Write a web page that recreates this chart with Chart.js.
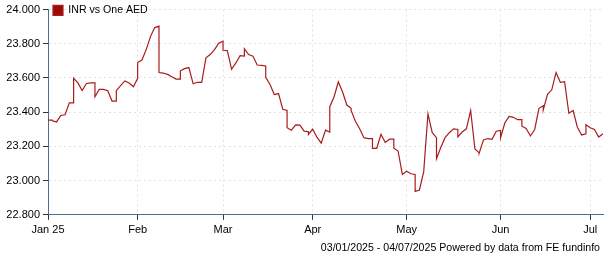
<!DOCTYPE html>
<html>
<head>
<meta charset="utf-8">
<script src="https://cdn.jsdelivr.net/npm/chart.js@4/dist/chart.umd.min.js"></script>
<style>
  html, body { margin: 0; padding: 0; background: #fff; }
  canvas { display: block; }
</style>
</head>
<body>
<canvas id="chart" width="605" height="260"></canvas>
<script>
// weekdays traded in each month of 2025
const janDays = [3, 6, 7, 8, 9, 10, 13, 14, 15, 16, 17, 20, 21, 22, 23, 24, 27, 28, 29, 30, 31];
const febDays = [3, 4, 5, 6, 7, 10, 11, 12, 13, 14, 17, 18, 19, 20, 21, 24, 25, 26, 27, 28];
const marDays = [3, 4, 5, 6, 7, 10, 11, 12, 13, 14, 17, 18, 19, 20, 21, 24, 25, 26, 27, 28, 31];
const aprDays = [1, 2, 3, 4, 7, 8, 9, 10, 11, 14, 15, 16, 17, 18, 21, 22, 23, 24, 25, 28, 29, 30];
const mayDays = [1, 2, 5, 6, 7, 8, 9, 12, 13, 14, 15, 16, 19, 20, 21, 22, 23, 26, 27, 28, 29, 30];
const junDays = [2, 3, 4, 5, 6, 9, 10, 11, 12, 13, 16, 17, 18, 19, 20, 23, 24, 25, 26, 27, 30];
const julDays = [1, 2, 3, 4];

// INR per AED
const janRates = [23.354, 23.350, 23.343, 23.381, 23.385, 23.455, 23.598, 23.571, 23.527, 23.568, 23.571,
                  23.490, 23.533, 23.533, 23.526, 23.465, 23.526, 23.556, 23.583, 23.571, 23.549];
const febRates = [23.690, 23.705, 23.766, 23.842, 23.895, 23.632, 23.629, 23.621, 23.607, 23.594,
                  23.642, 23.655, 23.661, 23.566, 23.575, 23.575, 23.718, 23.737, 23.766, 23.804];
const marRates = [23.762, 23.760, 23.651, 23.688, 23.731, 23.771, 23.737, 23.728, 23.676, 23.674, 23.604,
                  23.562, 23.503, 23.509, 23.417, 23.309, 23.295, 23.326, 23.324, 23.289, 23.270];
const aprRates = [23.301, 23.254, 23.219, 23.295, 23.432, 23.489, 23.578, 23.518, 23.442, 23.410, 23.347,
                  23.303, 23.251, 23.246, 23.189, 23.189, 23.270, 23.223, 23.242, 23.189, 23.173, 23.036];
const mayRates = [23.055, 23.040, 22.937, 22.945, 23.051, 23.390, 23.280, 23.128, 23.194, 23.251, 23.280,
                  23.303, 23.255, 23.284, 23.303, 23.410, 23.185, 23.160, 23.238, 23.246, 23.242, 23.289];
const junRates = [23.251, 23.337, 23.375, 23.370, 23.356, 23.318, 23.305, 23.261, 23.299, 23.423, 23.413,
                  23.505, 23.531, 23.632, 23.575, 23.579, 23.394, 23.410, 23.312, 23.267, 23.327];
const julRates = [23.309, 23.299, 23.255, 23.274];

// weekend quote, shown at each Monday before the Monday rate
const weekendRates = [23.354, 23.455, 23.571, 23.465, 23.598, 23.903, 23.594, 23.575, 23.815, 23.728,
                      23.670, 23.410, 23.286, 23.284, 23.423, 23.246, 23.242, 23.036, 23.251, 23.299,
                      23.162, 23.293, 23.356, 23.438, 23.579, 23.274];

const monthLabels = ['Jan 25', 'Feb', 'Mar', 'Apr', 'May', 'Jun', 'Jul'];
const yTicks = [22.8, 23.0, 23.2, 23.4, 23.6, 23.8, 24.0];

const seriesName = 'INR vs One AED';
const footerText = '03/01/2025 - 04/07/2025 Powered by data from FE fundinfo';

const monthDays = [janDays, febDays, marDays, aprDays, mayDays, junDays, julDays];
const monthRates = [janRates, febRates, marRates, aprRates, mayRates, junRates, julRates];

const points = [];
const monthStarts = [];
let idx = 0;
let wk = 0;
monthDays.forEach((days, m) => {
    monthStarts.push(idx);
    days.forEach((d, j) => {
        if (idx > 0 && new Date(2025, m, d).getDay() === 1) {
            points.push({ x: idx, y: weekendRates[wk++] });
        }
        points.push({ x: idx, y: monthRates[m][j] });
        idx++;
    });
});
const lastIndex = idx - 1;

Chart.defaults.font.family = "'Liberation Sans', Arial, sans-serif";
Chart.defaults.font.size = 11;
Chart.defaults.color = '#000';

const whiteBackground = {
    id: 'white_background',
    beforeDraw: (chart) => {
        const { ctx } = chart;
        ctx.save();
        ctx.globalCompositeOperation = 'destination-over';
        ctx.fillStyle = 'white';
        ctx.fillRect(0, 0, chart.width, chart.height);
        ctx.restore();
    }
};

const footer = {
    id: 'footer',
    afterDraw: (chart) => {
        const { ctx } = chart;
        ctx.save();
        ctx.font = "10.6px 'Liberation Sans', Arial, sans-serif";
        ctx.fillStyle = '#000';
        ctx.textAlign = 'right';
        ctx.textBaseline = 'middle';
        ctx.fillText(footerText, chart.width - 5, 248);
        ctx.restore();
    }
};

const gridColor = '#e2e2e2';
const axisColor = '#4a6d96';

new Chart(document.getElementById('chart'), {
    type: 'line',
    data: {
        datasets: [{
            label: seriesName,
            data: points,
            borderColor: '#a81c1c',
            backgroundColor: '#9c0a0a',
            borderWidth: 1.2,
            pointRadius: 0,
            tension: 0,
            fill: false
        }]
    },
    options: {
        responsive: false,
        animation: false,
        layout: {
            padding: { top: 9, right: 2, bottom: 19, left: 0 }
        },
        scales: {
            x: {
                type: 'linear',
                min: 0,
                max: lastIndex,
                afterBuildTicks: (scale) => {
                    scale.ticks = monthStarts.map(v => ({ value: v }));
                },
                ticks: {
                    autoSkip: false,
                    maxRotation: 0,
                    padding: 4,
                    callback: (value) => monthLabels[monthStarts.indexOf(value)]
                },
                grid: {
                    color: gridColor,
                    tickColor: '#333',
                    tickLength: 5,
                    borderDash: [2, 3]
                },
                border: { color: axisColor, width: 1, dash: [2, 3] }
            },
            y: {
                min: 22.8,
                max: 24,
                afterFit: (scale) => { scale.width = 48; },
                afterBuildTicks: (scale) => {
                    scale.ticks = yTicks.map(v => ({ value: v }));
                },
                ticks: {
                    padding: 3,
                    callback: (value) => value.toFixed(3)
                },
                grid: {
                    color: gridColor,
                    tickColor: '#333',
                    tickLength: 5,
                    borderDash: [2, 3]
                },
                border: { color: axisColor, width: 1, dash: [2, 3] }
            }
        },
        plugins: {
            legend: {
                position: 'chartArea',
                align: 'start',
                labels: {
                    boxWidth: 10,
                    boxHeight: 10,
                    padding: 5,
                    color: '#000',
                    font: { size: 10.6 }
                }
            },
            tooltip: { enabled: false }
        }
    },
    plugins: [whiteBackground, footer]
});
</script>
</body>
</html>
